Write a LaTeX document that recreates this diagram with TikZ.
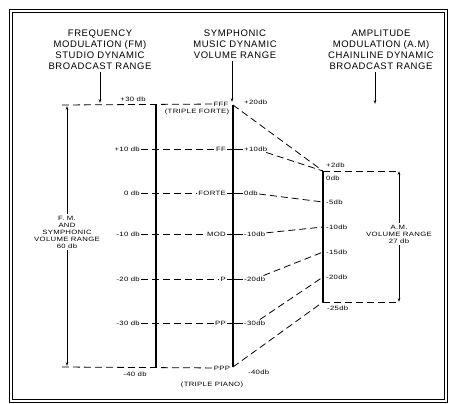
\documentclass[tikz,border=0pt]{standalone}
\usepackage{fontspec}
\setmainfont{Liberation Sans}
\newfontfamily\headfont[LetterSpace=6]{Liberation Sans}
\newfontfamily\smallfont[FakeStretch=1.25,LetterSpace=5]{Liberation Sans}
\usetikzlibrary{arrows.meta, positioning, calc}

\begin{document}
\begin{tikzpicture}[
  x=1pt, y=-1pt,
  head/.style={
    align=center,
    inner sep=2pt,
    font=\headfont\fontsize{9.5}{11}\selectfont
  },
  lbl/.style={
    inner sep=1pt,
    font=\smallfont\fontsize{6.2}{7}\selectfont
  },
  rangetxt/.style={
    lbl,
    align=center,
    inner sep=2pt
  },
  scaleline/.style={line width=1.1pt},
  guide/.style={dash pattern=on 7pt off 4pt, line width=0.8pt},
  tick/.style={line width=0.8pt},
  arrow/.style={-{Stealth[length=4pt,width=2.6pt]}, line width=0.8pt}
]

\useasboundingbox (0,0) rectangle (450,404);

% ============================================================
% Frame
% ============================================================

\draw[double, line width=0.9pt, double distance=1.4pt] (11,11) rectangle (446,401);

% ============================================================
% Headings
% ============================================================

\node[head] (fmhead) at (100,50) {FREQUENCY\\MODULATION (FM)\\STUDIO DYNAMIC\\BROADCAST RANGE};
\node[head] (symhead) at (235,44) {SYMPHONIC\\MUSIC DYNAMIC\\VOLUME RANGE};
\node[head] (amhead) at (381,50) {AMPLITUDE\\MODULATION (A.M)\\CHAINLINE DYNAMIC\\BROADCAST RANGE};

\coordinate (fmin) at (100,103);
\coordinate (symin) at (232,102);
\coordinate (amin) at (375,104);

\draw[arrow] (fmhead.south -| fmin) -- (fmin);
\draw[arrow] (symhead.south -| symin) -- (symin);
\draw[arrow] (amhead.south -| amin) -- (amin);

% ============================================================
% Symphonic scale
% ============================================================

\coordinate (fmtop) at (62,105);
\coordinate (sl1) at (156,105);
\coordinate (sr1) at (233,105);
\coordinate (fmbot) at (62,367);
\coordinate (sl7) at (156,367);
\coordinate (sr7) at (233,367);

\draw[scaleline] (sl1) -- (sl7);
\draw[scaleline] (sr1) -- (sr7);

% top row
\node[lbl] (l1) at (133,99) {+30 db};
\node[lbl] (m1) at (221,104) {FFF};
\node[lbl] (tforte) at (197,111.5) {(TRIPLE FORTE)};
\node[lbl, anchor=west] (r1) at (243,102) {+20db};
\draw[guide] (fmtop) -- (m1);

% middle rows
\foreach \y/\dl/\mk/\dr [count=\i from 2] in
  {149/+10 db/FF/+10db, 193/0 db/FORTE/0db, 234/-10 db/MOD/-10db,
   279/-20 db/P/-20db, 323/-30 db/PP/-30db} {
  \node[lbl, anchor=east] (l\i) at (141,\y) {\dl};
  \node[lbl, anchor=east] (m\i) at (227,\y) {\mk};
  \node[lbl, anchor=west] (r\i) at (243,\y) {\dr};
  \draw[guide] (l\i) -- (m\i);
  \draw[tick] (m\i) -- (r\i);
}

% bottom row
\node[lbl] (l7) at (135,374) {-40 db};
\node[lbl] (m7) at (222,368) {PPP};
\node[lbl] (tpiano) at (212,385) {(TRIPLE PIANO)};
\node[lbl, anchor=west] (r7) at (247,372) {-40db};
\draw[guide] (fmbot) -- (m7);

% ============================================================
% F.M. range
% ============================================================

\coordinate (fmtip) at (67,106);
\coordinate (fmend) at (67,366);
\node[rangetxt] (fmtxt) at (67,232) {F. M.\\AND\\SYMPHONIC\\VOLUME RANGE\\60 db};
\draw[arrow] (fmtxt) -- (fmtip);
\draw[arrow] (fmtxt) -- (fmend);

% ============================================================
% A.M. scale
% ============================================================

\coordinate (am0) at (323,171);
\coordinate (am5) at (323,202);
\coordinate (am10) at (323,227);
\coordinate (am15) at (323,252);
\coordinate (am20) at (323,277);
\coordinate (am25) at (323,302);

\draw[scaleline] (am0) -- (am25);

\node[lbl, anchor=west] (a2) at (325,165) {+2db};
\node[lbl, anchor=west] (a0) at (325,178) {0db};
\node[lbl, anchor=west] (a5) at (325,202) {-5db};
\node[lbl, anchor=west] (a10) at (325,227) {-10db};
\node[lbl, anchor=west] (a15) at (325,252) {-15db};
\node[lbl, anchor=west] (a20) at (325,277) {-20db};
\node[lbl, anchor=west] (a25) at (326,308) {-25db};

\draw[guide] (sr1) -- (am0);
\draw[guide] (r2) -- (am0);
\draw[guide] (r3) -- (am5);
\draw[guide] (r4) -- (am10);
\draw[guide] (r5) -- (am15);
\draw[guide] (r6) -- (am20);
\draw[guide] (sr7) -- (am25);

% A.M. range
\coordinate (amtr) at (399,171);
\coordinate (ambr) at (399,302);
\draw[guide] (am0) -- (amtr);
\draw[guide] (am25) -- (ambr);
\node[rangetxt] (amtxt) at (399,234) {A.M.\\VOLUME RANGE\\27 db};
\draw[arrow] (amtxt) -- (amtr);
\draw[arrow] (amtxt) -- (ambr);

\end{tikzpicture}
\end{document}
